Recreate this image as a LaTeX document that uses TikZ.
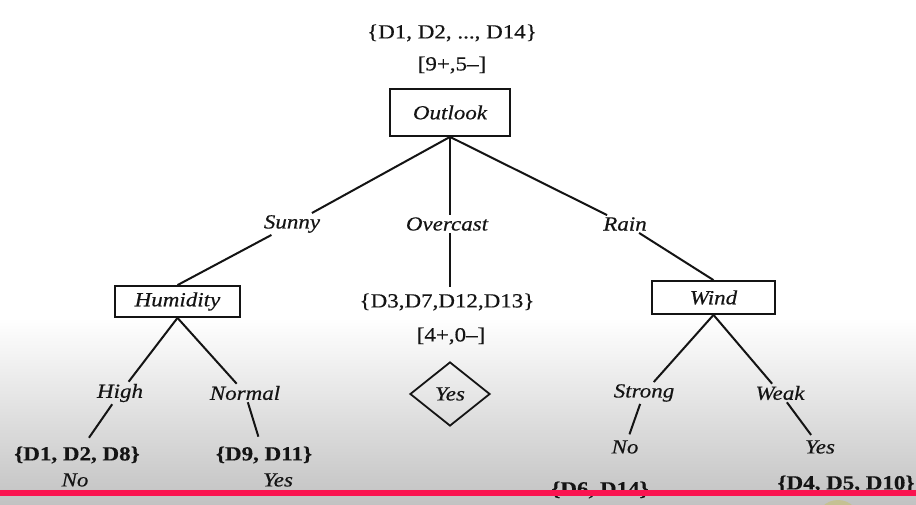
\documentclass[tikz,border=0pt]{standalone}
\usepackage{fontspec}
\setmainfont{Liberation Serif}[FakeStretch=1.15, FakeBold=0.4]
\usetikzlibrary{shapes.geometric}
\definecolor{gbot}{RGB}{194,194,194}
\definecolor{redline}{RGB}{250,20,80}
\definecolor{ink}{RGB}{20,20,20}
\begin{document}
\begin{tikzpicture}[x=1pt,y=-1pt,
  every node/.style={font=\fontsize{20}{24}\selectfont, text=ink},
  lbl/.style={inner sep=2pt},
  elbl/.style={inner sep=2pt, font=\fontsize{20}{24}\selectfont\itshape},
  leafb/.style={inner sep=2pt, font=\fontsize{20}{24}\selectfont\bfseries},
  attr/.style={draw=ink, line width=1.8pt, inner sep=0pt, font=\fontsize{20}{24}\selectfont\itshape},
  edge/.style={draw=ink, line width=2pt}]
\useasboundingbox (0,0) rectangle (916,505);
\fill[white] (0,0) rectangle (916,505);
\shade[top color=white, bottom color=gbot] (0,318) rectangle (916,505);

% root
\node[lbl] (all) at (452,33) {\{D1, D2, ..., D14\}};
\node[lbl] (cnt) at (452,65) {[9+,5\textendash]};
\node[attr, minimum width=120pt, minimum height=47pt] (outlook) at (450,112.5) {Outlook};

% level 1 labels
\node[elbl] (sunny) at (292,224) {Sunny};
\node[elbl] (overcast) at (447,224) {Overcast};
\node[elbl] (rain) at (625,224) {Rain};

% level 1 children
\node[attr, minimum width=125pt, minimum height=31pt] (humidity) at (177.5,301.5) {Humidity};
\node[lbl, inner sep=6pt] (ovset) at (447,302) {\{D3,D7,D12,D13\}};
\node[lbl] (ovcnt) at (451,336) {[4+,0\textendash]};
\node[attr, shape=diamond, minimum width=80pt, minimum height=64pt] (yesd) at (450,394) {Yes};
\node[attr, minimum width=123pt, minimum height=33pt] (wind) at (713.5,297.5) {Wind};

% level 2 labels
\node[elbl] (high) at (120,393) {High};
\node[elbl] (normal) at (245,393) {Normal};
\node[elbl] (strong) at (644,393) {Strong};
\node[elbl] (weak) at (780,393) {Weak};

% leaves
\node[leafb] (s1) at (77,455) {\{D1, D2, D8\}};
\node[elbl] (no1) at (75,480) {No};
\node[leafb] (s2) at (264,455) {\{D9, D11\}};
\node[elbl] (yes2) at (278,480) {Yes};
\node[elbl] (no3) at (625,447) {No};
\node[elbl] (yes3) at (820,447) {Yes};
\node[leafb] (s3) at (600,490) {\{D6, D14\}};
\node[leafb] (s4) at (846,484) {\{D4, D5, D10\}};

% connectors
\draw[edge] (outlook.south) -- (sunny);
\draw[edge] (sunny) -- (humidity.north);
\draw[edge] (outlook.south) -- (overcast.north -| outlook.south);
\draw[edge] (overcast.south -| outlook.south) -- (ovset.north -| outlook.south);
\draw[edge] (outlook.south) -- (rain);
\draw[edge] (rain) -- (wind.north);
\draw[edge] (humidity.south) -- (high);
\draw[edge, shorten >=8pt] (high) -- (s1);
\draw[edge] (humidity.south) -- (normal);
\draw[edge, shorten >=8pt] (normal) -- (s2);
\draw[edge] (wind.south) -- (strong);
\draw[edge, shorten >=4pt] (strong) -- (no3);
\draw[edge] (wind.south) -- (weak);
\draw[edge, shorten >=4pt] (weak) -- (yes3);

% screen overlay
\fill[redline] (0,490) rectangle (916,496);
\fill[yellow!50!gray, opacity=0.5] (838,522) circle (22);
\end{tikzpicture}
\end{document}
